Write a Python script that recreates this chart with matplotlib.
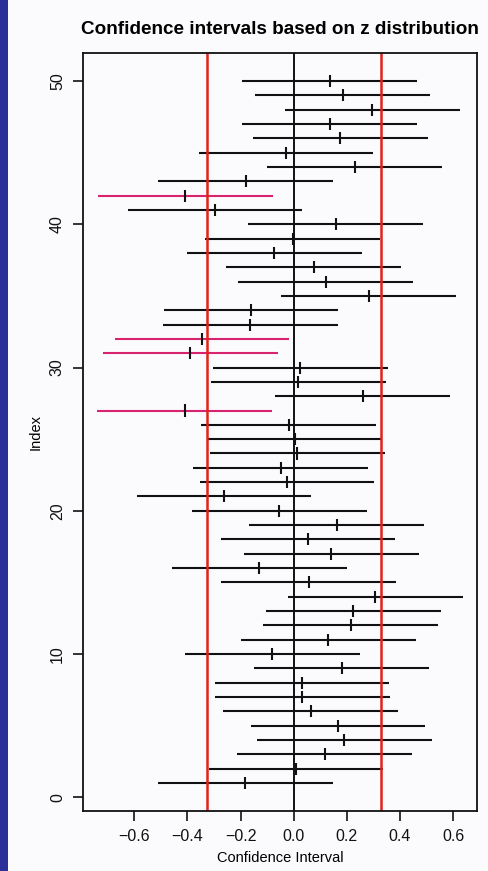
#!/usr/bin/env python3

import matplotlib
matplotlib.use('Agg')
import matplotlib.pyplot as plt
from matplotlib.patches import Rectangle

# interval centres, index 1 (bottom) .. 50 (top)
index = list(range(1, 51))
means = [
    -0.182, 0.009, 0.117, 0.190, 0.167, 0.064, 0.033, 0.031, 0.181, -0.081,
    0.131, 0.214, 0.224, 0.307, 0.057, -0.130, 0.142, 0.054, 0.162, -0.054,
    -0.262, -0.025, -0.049, 0.014, 0.005, -0.018, -0.410, 0.260, 0.018, 0.025,
    -0.389, -0.345, -0.164, -0.161, 0.282, 0.121, 0.075, -0.073, -0.004, 0.158,
    -0.296, -0.408, -0.180, 0.230, -0.029, 0.176, 0.136, 0.296, 0.184, 0.136,
]
margin = 0.329        # half width of every z interval
critical = 0.328      # red reference lines at +/- this
true_mean = 0.0

x_ticks = [-0.6, -0.4, -0.2, 0.0, 0.2, 0.4, 0.6]
y_ticks = [0, 10, 20, 30, 40, 50]

BLACK = '#111111'
MISS = '#d8246f'
RED = '#e3201b'

plt.rcParams['font.family'] = ['Liberation Sans', 'DejaVu Sans']

fig = plt.figure(figsize=(4.88, 8.71), dpi=100)
fig.patch.set_facecolor('#fbfbfd')
# scanned page edge on the left
fig.patches.append(Rectangle((0, 0), 8 / 488, 1, transform=fig.transFigure,
                             facecolor='#2d2f98', edgecolor='none', zorder=0))

ax = fig.add_axes([83 / 488, 60 / 871, 394 / 488, 758 / 871])
ax.set_facecolor('none')

lower = [m - margin for m in means]
upper = [m + margin for m in means]
colours = [MISS if (lo > true_mean or hi < true_mean) else BLACK
           for lo, hi in zip(lower, upper)]

ax.hlines(index, lower, upper, colors=colours, linewidth=1.5)
ax.vlines(means, [i - 0.42 for i in index], [i + 0.42 for i in index],
          colors=BLACK, linewidth=1.5)

ax.axvline(true_mean, color=BLACK, linewidth=1.4)
ax.axvline(-critical, color=RED, linewidth=1.8)
ax.axvline(critical, color=RED, linewidth=1.8)

ax.set_xlim(-0.793, 0.690)
ax.set_ylim(-0.96, 51.96)
ax.set_xticks(x_ticks)
ax.set_xticklabels(['\u22120.6', '\u22120.4', '\u22120.2', '0.0', '0.2', '0.4', '0.6'])
ax.set_yticks(y_ticks)
ax.set_yticklabels([str(v) for v in y_ticks], rotation=90, va='center')
ax.tick_params(direction='out', length=7, width=1.2, labelsize=11.5,
               colors=BLACK, pad=6)
for spine in ax.spines.values():
    spine.set_linewidth(1.3)
    spine.set_color(BLACK)

ax.set_xlabel('Confidence Interval', fontsize=10.5, labelpad=5)
ax.set_ylabel('Index', fontsize=10.5, labelpad=5)
ax.set_title('Confidence intervals based on z distribution',
             fontsize=13.6, fontweight='bold', pad=14)

fig.savefig('out.png', dpi=100)
